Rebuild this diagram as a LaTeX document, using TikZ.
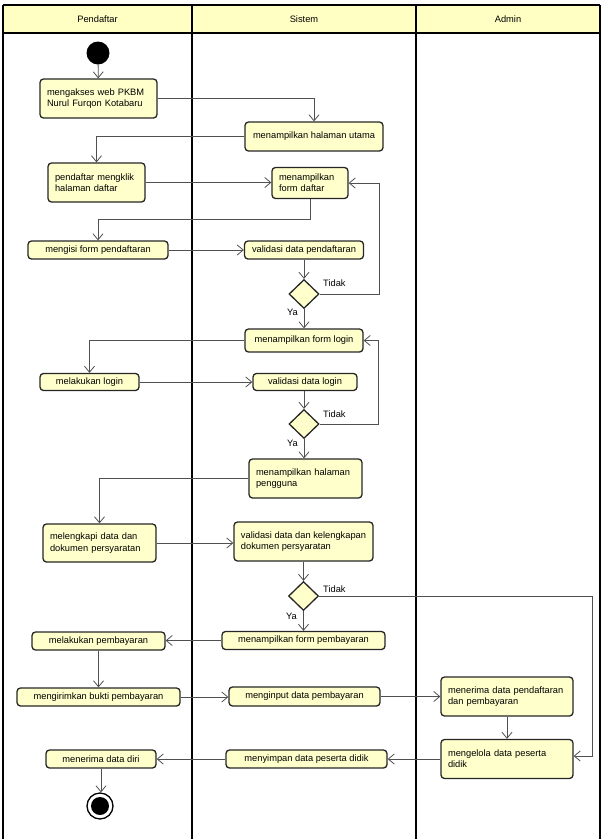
\documentclass[tikz,border=0pt]{standalone}
\usepackage{fontspec}
\setmainfont{Liberation Sans}
\usetikzlibrary{arrows.meta,shapes.geometric}
\definecolor{boxfill}{HTML}{FFFFCC}
\definecolor{headfill}{HTML}{FFFFC4}
\definecolor{flowcol}{HTML}{505050}
\tikzset{
  act/.style={draw=black!85, line width=1.3pt, fill=boxfill, rounded corners=3.5pt, font=\fontsize{9.3}{11.2}\selectfont, inner xsep=7pt, inner ysep=0pt, align=center},
  actl/.style={act, align=left},
  dec/.style={draw=black!85, line width=1.3pt, fill=boxfill, diamond, minimum width=30pt, minimum height=29pt, inner sep=0pt},
  flow/.style={draw=flowcol, line width=0.8pt, -{Straight Barb[length=6pt,width=10pt,line width=0.8pt]}},
  lbl/.style={font=\fontsize{9.3}{11}\selectfont, inner sep=0pt},
  lane/.style={draw=black, line width=1.4pt},
}
\begin{document}
\begin{tikzpicture}[x=1pt,y=-1pt]
\useasboundingbox (0,0) rectangle (603,839);
% header and lanes
\fill[headfill] (3,5) rectangle (600,33);
\draw[lane] (3,5) -- (600,5);
\draw[lane] (3,33) -- (600,33);
\draw[lane] (3,5) -- (3,839);
\draw[lane] (192,5) -- (192,839);
\draw[lane] (416,5) -- (416,839);
\draw[lane] (600,5) -- (600,839);
\node[lbl] (h1) at (97.5,19) {Pendaftar};
\node[lbl] (h2) at (304,19) {Sistem};
\node[lbl] (h3) at (508,19) {Admin};

% start
\node[circle, fill=black, minimum size=23pt, inner sep=0pt] (start) at (98,53) {};

% Pendaftar column
\node[actl, minimum width=117pt, minimum height=39pt, text width=103pt] (a1) at (98.5,98.5) {mengakses web PKBM\\Nurul Furqon Kotabaru};
\node[actl, minimum width=97pt, minimum height=39pt, text width=83pt] (a2) at (96.5,182.5) {pendaftar mengklik\\halaman daftar};
\node[act, minimum width=140pt, minimum height=18pt] (a3) at (98,250) {mengisi form pendaftaran};
\node[act, minimum width=99pt, minimum height=17pt] (a4) at (89.5,382) {melakukan login};
\node[actl, minimum width=113pt, minimum height=38pt, text width=99pt] (a5) at (99.5,543) {melengkapi data dan\\dokumen persyaratan};
\node[act, minimum width=133pt, minimum height=18pt] (a6) at (98.5,641) {melakukan pembayaran};
\node[act, minimum width=163pt, minimum height=18pt] (a7) at (98.5,697) {mengirimkan bukti pembayaran};
\node[act, minimum width=110pt, minimum height=18pt] (a8) at (101,759) {menerima data diri};
\node[circle, draw=black, line width=1.3pt, fill=white, minimum size=26pt, inner sep=0pt] (end) at (100,806) {};
\node[circle, fill=black, minimum size=18pt, inner sep=0pt] (endin) at (end.center) {};

% Sistem column
\node[act, minimum width=138pt, minimum height=29pt] (s1) at (314,136.5) {menampilkan halaman utama};
\node[actl, minimum width=76pt, minimum height=31pt, text width=62pt] (s2) at (310,183) {menampilkan\\form daftar};
\node[act, minimum width=119pt, minimum height=18pt] (s3) at (304,250) {validasi data pendaftaran};
\node[dec] (d1) at (304,294) {};
\node[act, minimum width=118pt, minimum height=23pt] (s4) at (304,340.5) {menampilkan form login};
\node[act, minimum width=104pt, minimum height=17pt] (s5) at (305,382) {validasi data login};
\node[dec] (d2) at (304,424) {};
\node[actl, minimum width=113pt, minimum height=39pt, text width=99pt] (s6) at (305.5,478.5) {menampilkan halaman\\pengguna};
\node[actl, minimum width=139pt, minimum height=39pt, inner xsep=4pt] (s7) at (303.5,541.5) {validasi data dan kelengkapan\\dokumen persyaratan};
\node[dec] (d3) at (303.5,596) {};
\node[act, minimum width=163pt, minimum height=18pt] (s8) at (303.5,640.5) {menampilkan form pembayaran};
\node[act, minimum width=151pt, minimum height=19pt] (s9) at (304.5,696.5) {menginput data pembayaran};
\node[act, minimum width=161pt, minimum height=18pt] (s10) at (306.5,759) {menyimpan data peserta didik};

% Admin column
\node[actl, minimum width=132pt, minimum height=39pt, text width=118pt] (ad1) at (507,696.5) {menerima data pendaftaran\\dan pembayaran};
\node[actl, minimum width=132pt, minimum height=39pt, text width=118pt] (ad2) at (507,759) {mengelola data peserta\\didik};

% flows
\draw[flow] (start) -- (a1);
\draw[flow] (a1.east) -| (s1.north);
\draw[flow] (s1.west) -| (a2.north);
\draw[flow] (a2.east) -- (a2.east -| s2.west);
\draw[flow] (s2.south) -- ++(0,20) -| (a3.north);
\draw[flow] (a3.east) -- (s3.west);
\draw[flow] (s3.south) -- (d1.north);
\draw[flow] (d1.east) -| ([xshift=31pt]s2.east) -- (s2.east);
\draw[flow] (d1.south) -- (s4.north);
\draw[flow] (s4.west) -| (a4.north);
\draw[flow] (a4.east) -- (a4.east -| s5.west);
\draw[flow] (s5.south) -- (s5.south -| d2.north) -- (d2.north);
\draw[flow] (d2.east) -| ([xshift=15pt]s4.east) -- (s4.east);
\draw[flow] (d2.south) -- (d2.south |- s6.north);
\draw[flow] (s6.west) -| (a5.north);
\draw[flow] (a5.east) -- (a5.east -| s7.west);
\draw[flow] (s7.south) -- (d3.north);
\draw[flow] (d3.east) -| ([xshift=19pt,yshift=3pt]ad2.east) -- ([yshift=3pt]ad2.east);
\draw[flow] (d3.south) -- (s8.north);
\draw[flow] (s8.west) -- (s8.west -| a6.east);
\draw[flow] (a6.south) -- (a7.north);
\draw[flow] (a7.east) -- (a7.east -| s9.west);
\draw[flow] (s9.east) -- (s9.east -| ad1.west);
\draw[flow] (ad1.south) -- (ad2.north);
\draw[flow] (ad2.west) -- (ad2.west -| s10.east);
\draw[flow] (s10.west) -- (s10.west -| a8.east);
\draw[flow] (a8.south) -- (a8.south |- end.north);

% guard labels
\node[lbl, anchor=west] (t1) at (323,283) {Tidak};
\node[lbl, anchor=east] (y1) at (298,312) {Ya};
\node[lbl, anchor=west] (t2) at (323,414) {Tidak};
\node[lbl, anchor=east] (y2) at (298,443) {Ya};
\node[lbl, anchor=west] (t3) at (323,589) {Tidak};
\node[lbl, anchor=east] (y3) at (297,616) {Ya};
\end{tikzpicture}
\end{document}
